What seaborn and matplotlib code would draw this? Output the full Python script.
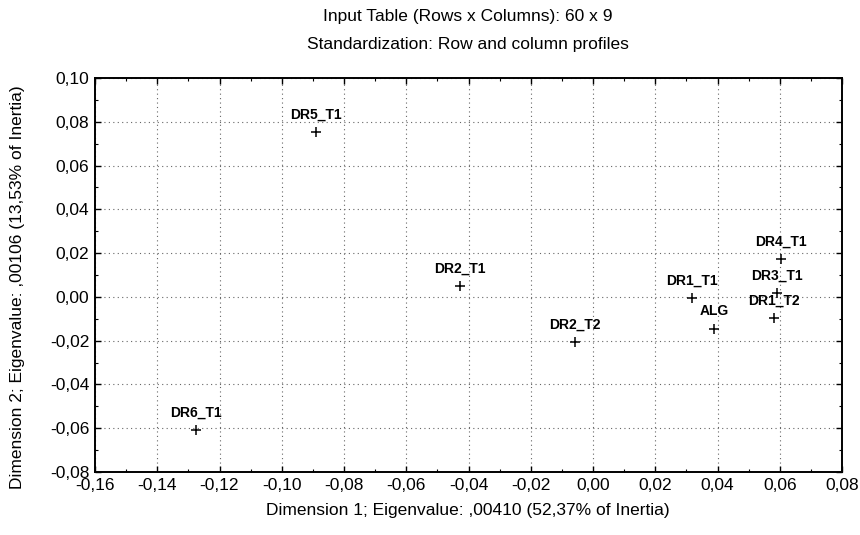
import matplotlib
matplotlib.use("Agg")
import matplotlib.pyplot as plt
import matplotlib.ticker as mticker
import seaborn as sns
import pandas as pd

labels = ["DR5_T1", "DR2_T1", "DR2_T2", "DR6_T1", "DR1_T1", "ALG",
          "DR4_T1", "DR3_T1", "DR1_T2"]
dim1 = [-0.089, -0.0428, -0.0059, -0.1275, 0.0318, 0.0389,
        0.0605, 0.0591, 0.0582]
dim2 = [0.0752, 0.0049, -0.0207, -0.0610, -0.0007, -0.0145,
        0.0172, 0.0018, -0.0095]

title1 = "Input Table (Rows x Columns): 60 x 9"
title2 = "Standardization: Row and column profiles"
xlabel = "Dimension 1; Eigenvalue: ,00410 (52,37% of Inertia)"
ylabel = "Dimension 2; Eigenvalue: ,00106 (13,53% of Inertia)"

df = pd.DataFrame({"label": labels, "x": dim1, "y": dim2})

sns.set_theme(style="white")
plt.rcParams["font.family"] = ["Liberation Sans", "DejaVu Sans"]

fig = plt.figure(figsize=(8.6, 5.35), dpi=100)
ax = fig.add_axes([95 / 860, 63 / 535, 747 / 860, 394 / 535])

sns.scatterplot(data=df, x="x", y="y", marker="+", s=50, color="black",
                linewidth=1.1, ax=ax, zorder=3)

for lab, xv, yv in zip(labels, dim1, dim2):
    ax.annotate(lab, (xv, yv), xytext=(0, 12.5), textcoords="offset points",
                ha="center", va="center", fontsize=10, fontweight="bold",
                color="black")

ax.set_xlim(-0.16, 0.08)
ax.set_ylim(-0.08, 0.10)
ax.xaxis.set_major_locator(mticker.MultipleLocator(0.02))
ax.yaxis.set_major_locator(mticker.MultipleLocator(0.02))
ax.xaxis.set_minor_locator(mticker.MultipleLocator(0.01))
ax.yaxis.set_minor_locator(mticker.MultipleLocator(0.01))

def fmt(v, pos):
    if abs(v) < 1e-9:
        v = 0.0
    return f"{v:.2f}".replace(".", ",")

ax.xaxis.set_major_formatter(mticker.FuncFormatter(fmt))
ax.yaxis.set_major_formatter(mticker.FuncFormatter(fmt))

ax.tick_params(axis="both", which="major", direction="in", length=4,
               width=1, colors="black", labelsize=12.5, top=True, right=True,
               bottom=True, left=True, pad=4)
ax.tick_params(axis="both", which="minor", direction="in", length=2.5,
               width=0.8, colors="black", top=True, right=True,
               bottom=True, left=True)

ax.grid(True, which="major", color="#666666", linestyle=(0, (1, 3)),
        linewidth=0.8)
for sp in ax.spines.values():
    sp.set_visible(True)
    sp.set_color("black")
    sp.set_linewidth(1.4)

ax.set_xlabel(xlabel, fontsize=12.5, color="black", va="center")
ax.set_ylabel(ylabel, fontsize=12.5, color="black", va="center")
ax.xaxis.set_label_coords((468 - 95) / 747, -(510 - 472) / 394)
ax.yaxis.set_label_coords((18 - 95) / 747, (472 - 287) / 394)

fig.text(468 / 860, 1 - 17 / 535, title1, ha="center", va="center",
         fontsize=12.5, color="black")
fig.text(468 / 860, 1 - 44 / 535, title2, ha="center", va="center",
         fontsize=12.5, color="black")

fig.savefig("out.png", dpi=100)
